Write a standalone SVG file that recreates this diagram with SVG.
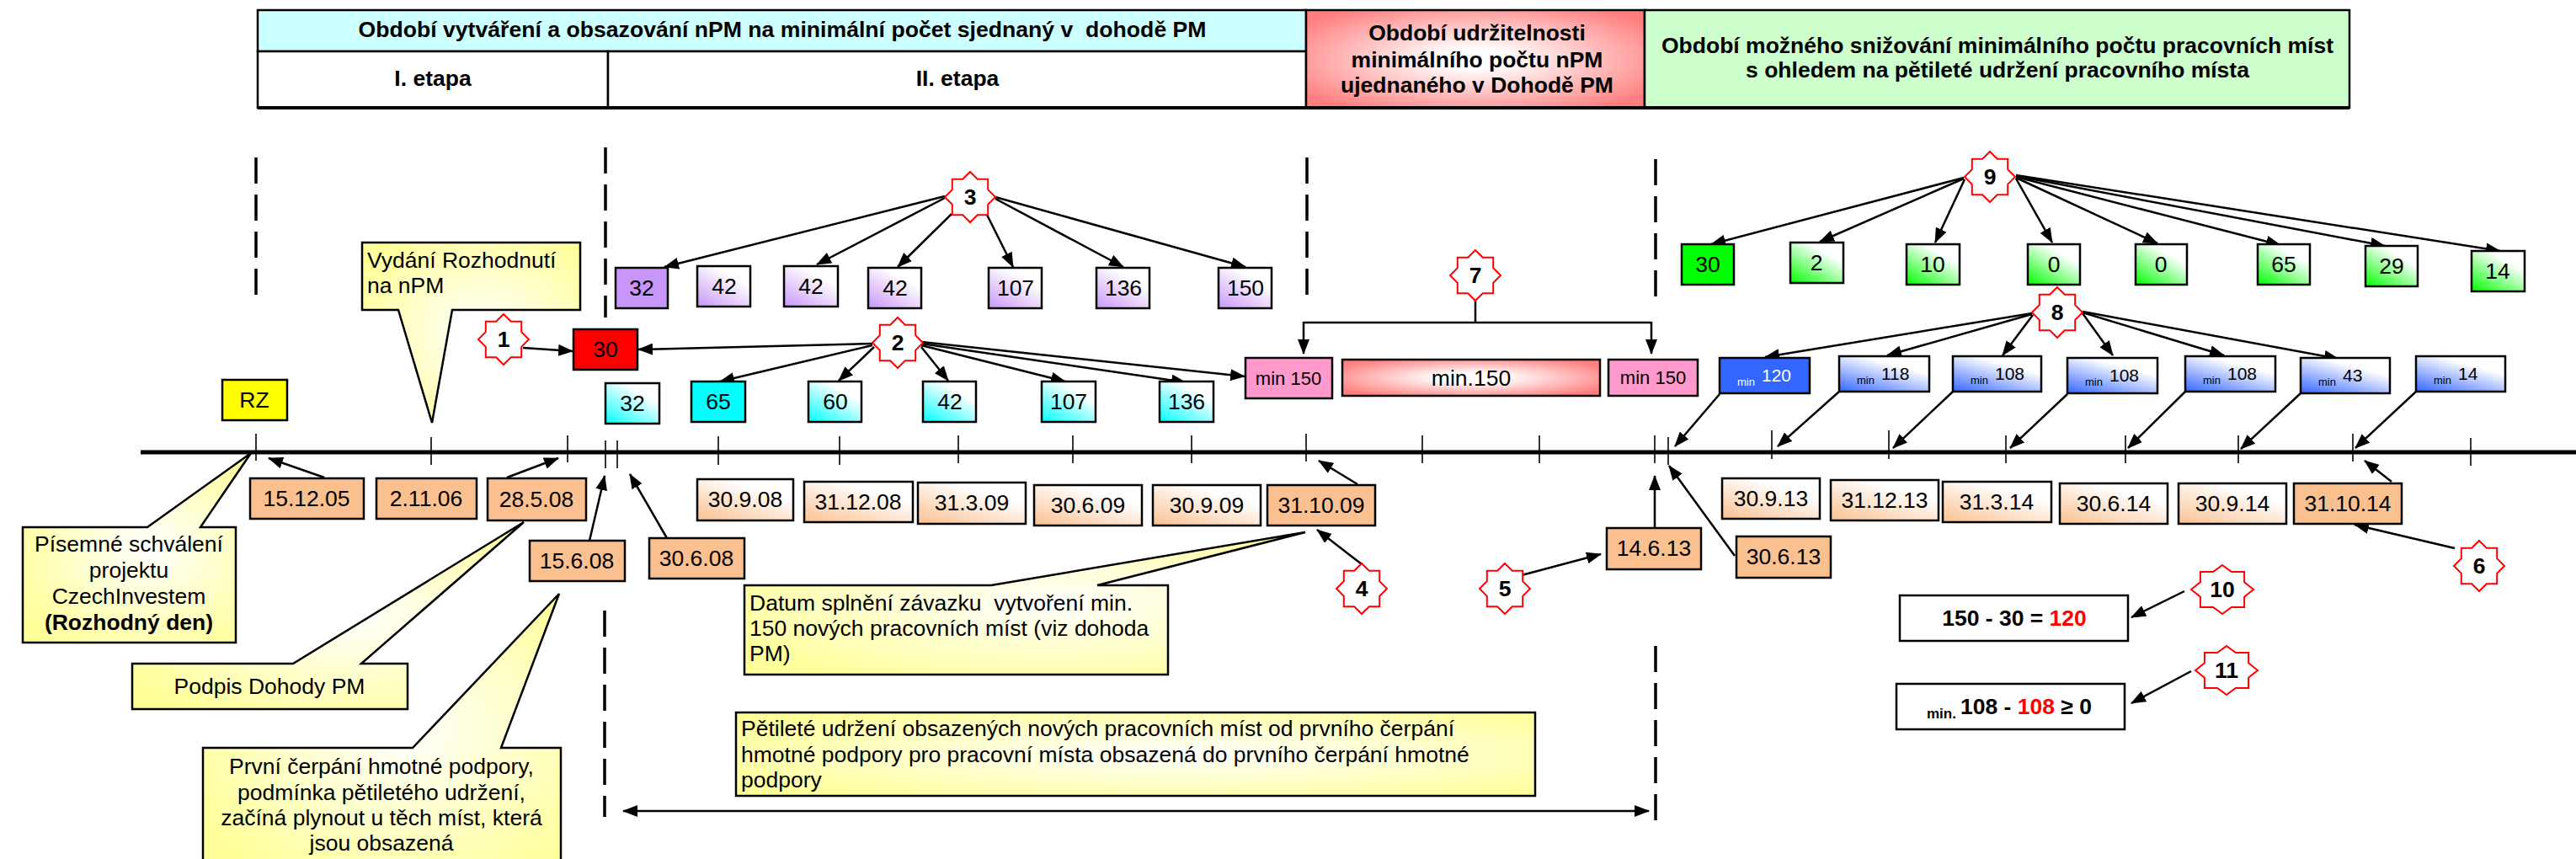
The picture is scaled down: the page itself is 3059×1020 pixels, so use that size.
<svg xmlns="http://www.w3.org/2000/svg" xmlns:xlink="http://www.w3.org/1999/xlink" width="3059" height="1020" viewBox="0 0 3059 1020">
<style>
text{font-family:"Liberation Sans",Arial,sans-serif;font-size:26.5px;text-anchor:middle;fill:#000}
.b{font-weight:bold}
.l{text-anchor:start}
.bx{stroke:#000;stroke-width:2.5}
.co{stroke:#000;stroke-width:2.5;fill:url(#gY)}
.star{fill:#fff;stroke:#ff0000;stroke-width:2}
.ar{stroke:#000;stroke-width:2.5;fill:none;marker-end:url(#ah)}
.tk{stroke:#000;stroke-width:1.6}
.ds{stroke:#000;stroke-width:3.5;stroke-dasharray:31 13}
.sm{font-size:13px}
.bn{font-size:21px}
</style>
<defs>
<marker id="ah" viewBox="0 0 18 14" refX="17" refY="7" markerWidth="18" markerHeight="14" orient="auto-start-reverse" markerUnits="userSpaceOnUse"><path d="M0,0 L18,7 L0,14 Z" fill="#000"/></marker>
<linearGradient id="gPe" x1="0" y1="1" x2="0.6" y2="0.2"><stop offset="0" stop-color="#fac090"/><stop offset="1" stop-color="#fff"/></linearGradient>
<linearGradient id="gPu" x1="0" y1="1" x2="0.6" y2="0.2"><stop offset="0" stop-color="#c896f8"/><stop offset="1" stop-color="#fff"/></linearGradient>
<linearGradient id="gCy" x1="0" y1="1" x2="0.6" y2="0.2"><stop offset="0" stop-color="#00ffff"/><stop offset="1" stop-color="#fff"/></linearGradient>
<linearGradient id="gGr" x1="0" y1="1" x2="0.6" y2="0.2"><stop offset="0" stop-color="#00ff00"/><stop offset="1" stop-color="#fff"/></linearGradient>
<linearGradient id="gBl" x1="0" y1="1" x2="0.55" y2="0.2"><stop offset="0" stop-color="#3366ff"/><stop offset="1" stop-color="#fff"/></linearGradient>
<radialGradient id="gY" cx="0.55" cy="0.5" r="0.65"><stop offset="0" stop-color="#fff"/><stop offset="1" stop-color="#ffff99"/></radialGradient>
<radialGradient id="gRh" cx="0.5" cy="0.5" r="0.62"><stop offset="0.15" stop-color="#fff"/><stop offset="1" stop-color="#ff7f7f"/></radialGradient>
<radialGradient id="gRm" cx="0.5" cy="0.5" r="0.6"><stop offset="0.2" stop-color="#fff"/><stop offset="1" stop-color="#ff7f7f"/></radialGradient>
<polygon id="star" class="star" points="0,-30 8.8,-21.2 21.2,-21.2 21.2,-8.8 30,0 21.2,8.8 21.2,21.2 8.8,21.2 0,30 -8.8,21.2 -21.2,21.2 -21.2,8.8 -30,0 -21.2,-8.8 -21.2,-21.2 -8.8,-21.2"/>
<polygon id="starW" class="star" points="0,-29 10.9,-20.9 26.1,-20.9 26.1,-8.7 37,0 26.1,8.7 26.1,20.9 10.9,20.9 0,29 -10.9,20.9 -26.1,20.9 -26.1,8.7 -37,0 -26.1,-8.7 -26.1,-20.9 -10.9,-20.9"/>
</defs>
<rect width="3059" height="1020" fill="#fff"/>

<g id="header">
<g id="hdr-creation"><rect x="306" y="12" width="1245" height="49" fill="#ccffff" class="bx"/><text class="b" x="929" y="44" textLength="1007" lengthAdjust="spacingAndGlyphs">Období vytváření a obsazování nPM na minimální počet sjednaný v&#160; dohodě PM</text></g>
<g id="hdr-etapa1"><rect x="306" y="61" width="416" height="67" fill="#fff" class="bx"/><text class="b" x="514" y="102">I. etapa</text></g>
<g id="hdr-etapa2"><rect x="722" y="61" width="829" height="67" fill="#fff" class="bx"/><text class="b" x="1137" y="102">II. etapa</text></g>
<g id="hdr-sustain"><rect x="1551" y="12" width="402" height="116" fill="url(#gRh)" class="bx"/><text class="b" x="1754" y="48">Období udržitelnosti</text><text class="b" x="1754" y="80">minimálního počtu nPM</text><text class="b" x="1754" y="110">ujednaného v Dohodě PM</text></g>
<g id="hdr-reduce"><rect x="1953" y="12" width="837" height="116" fill="#ccffcc" class="bx"/><text class="b" x="2372" y="63">Období možného snižování minimálního počtu pracovních míst</text><text class="b" x="2372" y="92">s ohledem na pětileté udržení pracovního místa</text></g>
<line x1="306" y1="128" x2="2790" y2="128" stroke="#000" stroke-width="4"/>
</g>

<g id="guides">
<line class="ds" x1="304" y1="187" x2="304" y2="352"/>
<line class="ds" x1="719" y1="175" x2="719" y2="377"/>
<line class="ds" x1="1552" y1="187" x2="1552" y2="352"/>
<line class="ds" x1="1966" y1="189" x2="1966" y2="353"/>
<line class="ds" x1="718" y1="725" x2="718" y2="970"/>
<line class="ds" x1="1966" y1="767" x2="1966" y2="975"/>
</g>

<g id="timeline">
<line x1="167" y1="537" x2="3059" y2="537" stroke="#000" stroke-width="5"/>
<line class="tk" x1="304" y1="515" x2="304" y2="547"/>
<line class="tk" x1="512" y1="519" x2="512" y2="552"/>
<line class="tk" x1="674" y1="517" x2="674" y2="549"/>
<line class="tk" x1="719" y1="523" x2="719" y2="556"/>
<line class="tk" x1="733" y1="523" x2="733" y2="556"/>
<line class="tk" x1="853" y1="518" x2="853" y2="552"/>
<line class="tk" x1="997" y1="518" x2="997" y2="552"/>
<line class="tk" x1="1138" y1="517" x2="1138" y2="550"/>
<line class="tk" x1="1274" y1="517" x2="1274" y2="550"/>
<line class="tk" x1="1415" y1="517" x2="1415" y2="550"/>
<line class="tk" x1="1551" y1="515" x2="1551" y2="548"/>
<line class="tk" x1="1689" y1="517" x2="1689" y2="550"/>
<line class="tk" x1="1828" y1="517" x2="1828" y2="550"/>
<line class="tk" x1="1965" y1="517" x2="1965" y2="550"/>
<line class="tk" x1="1981" y1="519" x2="1981" y2="552"/>
<line class="tk" x1="2104" y1="511" x2="2104" y2="545"/>
<line class="tk" x1="2243" y1="511" x2="2243" y2="545"/>
<line class="tk" x1="2382" y1="517" x2="2382" y2="550"/>
<line class="tk" x1="2524" y1="517" x2="2524" y2="550"/>
<line class="tk" x1="2658" y1="517" x2="2658" y2="550"/>
<line class="tk" x1="2794" y1="515" x2="2794" y2="548"/>
<line class="tk" x1="2934" y1="520" x2="2934" y2="553"/>
</g>

<g id="connectors">
<line class="ar" x1="621" y1="413" x2="680" y2="417"/>
<line class="ar" x1="1036" y1="408" x2="758" y2="415"/>
<line class="ar" x1="1036" y1="410" x2="855" y2="453"/>
<line class="ar" x1="1038" y1="412" x2="996" y2="452"/>
<line class="ar" x1="1094" y1="412" x2="1126" y2="452"/>
<line class="ar" x1="1094" y1="410" x2="1265" y2="453"/>
<line class="ar" x1="1094" y1="408" x2="1408" y2="454"/>
<line class="ar" x1="1094" y1="406" x2="1478" y2="447"/>
<line class="ar" x1="1122" y1="233" x2="789" y2="317"/>
<line class="ar" x1="1122" y1="235" x2="970" y2="314"/>
<line class="ar" x1="1130" y1="254" x2="1066" y2="317"/>
<line class="ar" x1="1172" y1="255" x2="1203" y2="317"/>
<line class="ar" x1="1182" y1="236" x2="1334" y2="317"/>
<line class="ar" x1="1182" y1="234" x2="1479" y2="317"/>
<polyline points="1752,356 1752,383" fill="none" stroke="#000" stroke-width="2.5"/>
<polyline points="1548,383 1961,383" fill="none" stroke="#000" stroke-width="2.5"/>
<polyline class="ar" points="1548,382 1548,420"/>
<polyline class="ar" points="1961,382 1961,420"/>
<line class="ar" x1="2332" y1="211" x2="2032" y2="290"/>
<line class="ar" x1="2332" y1="212" x2="2161" y2="287"/>
<line class="ar" x1="2333" y1="213" x2="2298" y2="288"/>
<line class="ar" x1="2394" y1="212" x2="2437" y2="288"/>
<line class="ar" x1="2394" y1="211" x2="2562" y2="289"/>
<line class="ar" x1="2394" y1="210" x2="2708" y2="291"/>
<line class="ar" x1="2394" y1="209" x2="2832" y2="292"/>
<line class="ar" x1="2394" y1="208" x2="2969" y2="298"/>
<line class="ar" x1="2413" y1="372" x2="2096" y2="424"/>
<line class="ar" x1="2413" y1="373" x2="2241" y2="422"/>
<line class="ar" x1="2414" y1="374" x2="2378" y2="422"/>
<line class="ar" x1="2473" y1="372" x2="2509" y2="422"/>
<line class="ar" x1="2473" y1="371" x2="2641" y2="422"/>
<line class="ar" x1="2473" y1="370" x2="2777" y2="426"/>
<line class="ar" x1="2042" y1="468" x2="1989" y2="530"/>
<line class="ar" x1="2184" y1="465" x2="2111" y2="530"/>
<line class="ar" x1="2319" y1="465" x2="2248" y2="532"/>
<line class="ar" x1="2455" y1="468" x2="2387" y2="532"/>
<line class="ar" x1="2595" y1="465" x2="2527" y2="532"/>
<line class="ar" x1="2732" y1="467" x2="2661" y2="533"/>
<line class="ar" x1="2869" y1="465" x2="2797" y2="532"/>
<line class="ar" x1="385" y1="567" x2="319" y2="544"/>
<line class="ar" x1="602" y1="567" x2="663" y2="544"/>
<line class="ar" x1="700" y1="642" x2="718" y2="565"/>
<line class="ar" x1="792" y1="639" x2="748" y2="563"/>
<line class="ar" x1="1612" y1="575" x2="1566" y2="547"/>
<line class="ar" x1="1617" y1="670" x2="1564" y2="629"/>
<line class="ar" x1="1807" y1="683" x2="1901" y2="658"/>
<line class="ar" x1="1965" y1="627" x2="1965" y2="565"/>
<line class="ar" x1="2060" y1="660" x2="1982" y2="553"/>
<line class="ar" x1="2840" y1="572" x2="2808" y2="547"/>
<line class="ar" x1="2915" y1="651" x2="2796" y2="623"/>
<line class="ar" x1="2594" y1="702" x2="2531" y2="733"/>
<line class="ar" x1="2602" y1="797" x2="2531" y2="835"/>
<line class="ar" x1="740" y1="963" x2="1958" y2="963" style="marker-start:url(#ah)"/>
</g>

<g id="callouts">
<g id="co-vydani"><path class="co" d="M430,288 H689 V368 H537 L513,502 L473,368 H430 Z"/><text class="l" x="436" y="318">Vydání Rozhodnutí</text><text class="l" x="436" y="348">na nPM</text></g>
<g id="co-pisemne"><path class="co" d="M27,626 H175 L298,538 L238,626 H280 V763 H27 Z"/><text x="153" y="655">Písemné schválení</text><text x="153" y="686">projektu</text><text x="153" y="717">CzechInvestem</text><text class="b" x="153" y="748">(Rozhodný den)</text></g>
<g id="co-podpis"><path class="co" d="M157,788 H348 L622,620 L429,788 H484 V842 H157 Z"/><text x="320" y="824">Podpis Dohody PM</text></g>
<g id="co-prvni"><path class="co" d="M241,888 H490 L664,705 L595,888 H666 V1030 H241 Z"/><text x="453" y="919">První čerpání hmotné podpory,</text><text x="453" y="950">podmínka pětiletého udržení,</text><text x="453" y="980">začíná plynout u těch míst, která</text><text x="453" y="1010">jsou obsazená</text></g>
<g id="co-datum"><path class="co" d="M884,695 H1177 L1550,632 L1303,695 H1387 V801 H884 Z"/><text class="l" x="890" y="725">Datum splnění závazku&#160; vytvoření min.</text><text class="l" x="890" y="755">150 nových pracovních míst (viz dohoda</text><text class="l" x="890" y="785">PM)</text></g>
<g id="co-petilete"><rect class="co" x="874" y="846" width="949" height="99"/><text class="l" x="880" y="874">Pětileté udržení obsazených nových pracovních míst od prvního čerpání</text><text class="l" x="880" y="905">hmotné podpory pro pracovní místa obsazená do prvního čerpání hmotné</text><text class="l" x="880" y="935">podpory</text></g>
</g>

<g id="stars">
<g id="s1"><use href="#star" x="598" y="403"/><text class="b" x="598" y="412">1</text></g>
<g id="s2"><use href="#star" x="1066" y="407"/><text class="b" x="1066" y="416">2</text></g>
<g id="s3"><use href="#star" x="1152" y="234"/><text class="b" x="1152" y="243">3</text></g>
<g id="s4"><use href="#star" x="1617" y="699"/><text class="b" x="1617" y="708">4</text></g>
<g id="s5"><use href="#star" x="1787" y="699"/><text class="b" x="1787" y="708">5</text></g>
<g id="s6"><use href="#star" x="2944" y="672"/><text class="b" x="2944" y="681">6</text></g>
<g id="s7"><use href="#star" x="1752" y="327"/><text class="b" x="1752" y="336">7</text></g>
<g id="s8"><use href="#star" x="2443" y="371"/><text class="b" x="2443" y="380">8</text></g>
<g id="s9"><use href="#star" x="2363" y="210"/><text class="b" x="2363" y="219">9</text></g>
<g id="s10"><use href="#starW" x="2639" y="700"/><text class="b" x="2639" y="709">10</text></g>
<g id="s11"><use href="#starW" x="2644" y="796"/><text class="b" x="2644" y="805">11</text></g>
</g>

<g id="boxes-top">
<g id="rz"><rect class="bx" x="264" y="451" width="77" height="48" fill="#ffff00"/><text x="302" y="484">RZ</text></g>
<g id="red30"><rect class="bx" x="681" y="391" width="76" height="48" fill="#ff0000"/><text x="719" y="424">30</text></g>
<g id="pu1"><rect class="bx" x="731" y="318" width="62" height="48" fill="#c896f8"/><text x="762" y="351">32</text></g>
<g id="pu2"><rect class="bx" x="828" y="316" width="63" height="48" fill="url(#gPu)"/><text x="860" y="349">42</text></g>
<g id="pu3"><rect class="bx" x="931" y="316" width="64" height="48" fill="url(#gPu)"/><text x="963" y="349">42</text></g>
<g id="pu4"><rect class="bx" x="1031" y="318" width="63" height="48" fill="url(#gPu)"/><text x="1063" y="351">42</text></g>
<g id="pu5"><rect class="bx" x="1174" y="318" width="63" height="48" fill="url(#gPu)"/><text x="1206" y="351">107</text></g>
<g id="pu6"><rect class="bx" x="1302" y="318" width="63" height="48" fill="url(#gPu)"/><text x="1334" y="351">136</text></g>
<g id="pu7"><rect class="bx" x="1447" y="318" width="63" height="48" fill="url(#gPu)"/><text x="1479" y="351">150</text></g>
<g id="cy1"><rect class="bx" x="719" y="455" width="64" height="48" fill="url(#gCy)"/><text x="751" y="488">32</text></g>
<g id="cy2"><rect class="bx" x="821" y="453" width="64" height="48" fill="#00ffff"/><text x="853" y="486">65</text></g>
<g id="cy3"><rect class="bx" x="960" y="453" width="63" height="48" fill="url(#gCy)"/><text x="992" y="486">60</text></g>
<g id="cy4"><rect class="bx" x="1096" y="453" width="63" height="48" fill="url(#gCy)"/><text x="1128" y="486">42</text></g>
<g id="cy5"><rect class="bx" x="1237" y="453" width="64" height="48" fill="url(#gCy)"/><text x="1269" y="486">107</text></g>
<g id="cy6"><rect class="bx" x="1377" y="453" width="64" height="48" fill="url(#gCy)"/><text x="1409" y="486">136</text></g>
<g id="pk1"><rect class="bx" x="1479" y="425" width="103" height="48" fill="#ff99cc"/><text x="1530" y="457" style="font-size:22px">min 150</text></g>
<g id="pk2"><rect class="bx" x="1594" y="427" width="306" height="43" fill="url(#gRm)"/><text x="1747" y="458">min.150</text></g>
<g id="pk3"><rect class="bx" x="1910" y="427" width="106" height="43" fill="#ff99cc"/><text x="1963" y="456" style="font-size:22px">min 150</text></g>
<g id="gr1"><rect class="bx" x="1997" y="290" width="62" height="48" fill="#00ff00"/><text x="2028" y="323">30</text></g>
<g id="gr2"><rect class="bx" x="2126" y="288" width="63" height="48" fill="url(#gGr)"/><text x="2157" y="321">2</text></g>
<g id="gr3"><rect class="bx" x="2264" y="290" width="63" height="48" fill="url(#gGr)"/><text x="2295" y="323">10</text></g>
<g id="gr4"><rect class="bx" x="2408" y="290" width="62" height="48" fill="url(#gGr)"/><text x="2439" y="323">0</text></g>
<g id="gr5"><rect class="bx" x="2536" y="290" width="61" height="48" fill="url(#gGr)"/><text x="2566" y="323">0</text></g>
<g id="gr6"><rect class="bx" x="2681" y="290" width="62" height="48" fill="url(#gGr)"/><text x="2712" y="323">65</text></g>
<g id="gr7"><rect class="bx" x="2809" y="292" width="62" height="48" fill="url(#gGr)"/><text x="2840" y="325">29</text></g>
<g id="gr8"><rect class="bx" x="2935" y="298" width="63" height="48" fill="url(#gGr)"/><text x="2966" y="331">14</text></g>
<g id="bl1"><rect class="bx" x="2042" y="425" width="107" height="42" fill="#3366ff"/><text class="l sm" x="2063" y="458" style="fill:#fff">min</text><text class="l bn" x="2092" y="453" style="fill:#fff">120</text></g>
<g id="bl2"><rect class="bx" x="2184" y="423" width="107" height="42" fill="url(#gBl)"/><text class="l sm" x="2205" y="456">min</text><text class="l bn" x="2234" y="451">118</text></g>
<g id="bl3"><rect class="bx" x="2319" y="423" width="105" height="42" fill="url(#gBl)"/><text class="l sm" x="2340" y="456">min</text><text class="l bn" x="2369" y="451">108</text></g>
<g id="bl4"><rect class="bx" x="2455" y="425" width="107" height="42" fill="url(#gBl)"/><text class="l sm" x="2476" y="458">min</text><text class="l bn" x="2505" y="453">108</text></g>
<g id="bl5"><rect class="bx" x="2595" y="423" width="107" height="42" fill="url(#gBl)"/><text class="l sm" x="2616" y="456">min</text><text class="l bn" x="2645" y="451">108</text></g>
<g id="bl6"><rect class="bx" x="2732" y="425" width="106" height="42" fill="url(#gBl)"/><text class="l sm" x="2753" y="458">min</text><text class="l bn" x="2782" y="453">43</text></g>
<g id="bl7"><rect class="bx" x="2869" y="423" width="106" height="42" fill="url(#gBl)"/><text class="l sm" x="2890" y="456">min</text><text class="l bn" x="2919" y="451">14</text></g>
</g>

<g id="dates">
<g id="d1"><rect class="bx" x="297" y="568" width="135" height="48" fill="#fac090"/><text x="364" y="601">15.12.05</text></g>
<g id="d2"><rect class="bx" x="447" y="568" width="119" height="48" fill="#fac090"/><text x="506" y="601">2.11.06</text></g>
<g id="d3"><rect class="bx" x="579" y="568" width="117" height="50" fill="#fac090"/><text x="637" y="602">28.5.08</text></g>
<g id="d4"><rect class="bx" x="629" y="642" width="113" height="48" fill="#fac090"/><text x="685" y="675">15.6.08</text></g>
<g id="d5"><rect class="bx" x="771" y="639" width="113" height="48" fill="#fac090"/><text x="827" y="672">30.6.08</text></g>
<g id="d6"><rect class="bx" x="828" y="569" width="114" height="49" fill="url(#gPe)"/><text x="885" y="602">30.9.08</text></g>
<g id="d7"><rect class="bx" x="955" y="572" width="129" height="48" fill="url(#gPe)"/><text x="1019" y="605">31.12.08</text></g>
<g id="d8"><rect class="bx" x="1090" y="573" width="128" height="49" fill="url(#gPe)"/><text x="1154" y="606">31.3.09</text></g>
<g id="d9"><rect class="bx" x="1228" y="576" width="128" height="48" fill="url(#gPe)"/><text x="1292" y="609">30.6.09</text></g>
<g id="d10"><rect class="bx" x="1369" y="576" width="128" height="48" fill="url(#gPe)"/><text x="1433" y="609">30.9.09</text></g>
<g id="d11"><rect class="bx" x="1505" y="576" width="128" height="48" fill="#fac090"/><text x="1569" y="609">31.10.09</text></g>
<g id="d12"><rect class="bx" x="1908" y="627" width="112" height="49" fill="#fac090"/><text x="1964" y="660">14.6.13</text></g>
<g id="d13"><rect class="bx" x="2062" y="637" width="112" height="49" fill="#fac090"/><text x="2118" y="670">30.6.13</text></g>
<g id="d14"><rect class="bx" x="2045" y="568" width="116" height="48" fill="url(#gPe)"/><text x="2103" y="601">30.9.13</text></g>
<g id="d15"><rect class="bx" x="2174" y="570" width="128" height="48" fill="url(#gPe)"/><text x="2238" y="603">31.12.13</text></g>
<g id="d16"><rect class="bx" x="2307" y="572" width="129" height="48" fill="url(#gPe)"/><text x="2371" y="605">31.3.14</text></g>
<g id="d17"><rect class="bx" x="2446" y="574" width="128" height="48" fill="url(#gPe)"/><text x="2510" y="607">30.6.14</text></g>
<g id="d18"><rect class="bx" x="2587" y="574" width="128" height="48" fill="url(#gPe)"/><text x="2651" y="607">30.9.14</text></g>
<g id="d19"><rect class="bx" x="2724" y="574" width="128" height="48" fill="#fac090"/><text x="2788" y="607">31.10.14</text></g>
</g>

<g id="equations">
<g id="eq1"><rect class="bx" x="2256" y="707" width="271" height="54" fill="#fff"/><text class="b" x="2392" y="743">150 - 30 = <tspan fill="#ff0000">120</tspan></text></g>
<g id="eq2"><rect class="bx" x="2252" y="812" width="271" height="54" fill="#fff"/><text class="b l" x="2288" y="853" style="font-size:17px">min.</text><text class="b l" x="2328" y="848">108 - <tspan fill="#ff0000">108</tspan> ≥ 0</text></g>
</g>
</svg>
